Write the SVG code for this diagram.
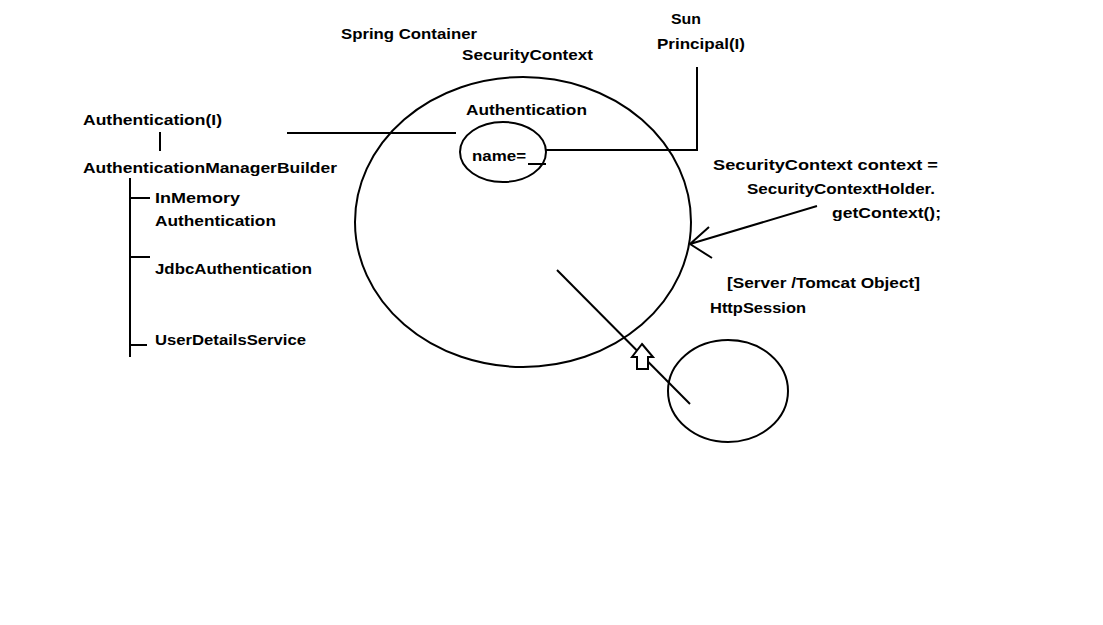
<svg xmlns="http://www.w3.org/2000/svg" width="1103" height="625" viewBox="0 0 1103 625">
<style>
text{font-family:"Liberation Sans",Arial,sans-serif;font-weight:bold;font-size:15.5px;fill:#000}
.s{fill:none;stroke:#000;stroke-width:2}
</style>
<rect width="1103" height="625" fill="#fff"/>
<g id="labels">
<text x="341" y="39" textLength="136" lengthAdjust="spacingAndGlyphs">Spring Container</text>
<text x="462" y="60" textLength="131" lengthAdjust="spacingAndGlyphs">SecurityContext</text>
<text x="671" y="24" textLength="30" lengthAdjust="spacingAndGlyphs">Sun</text>
<text x="657" y="49" textLength="88" lengthAdjust="spacingAndGlyphs">Principal(I)</text>
<text x="713" y="170" textLength="225" lengthAdjust="spacingAndGlyphs">SecurityContext context =</text>
<text x="747" y="194" textLength="188" lengthAdjust="spacingAndGlyphs">SecurityContextHolder.</text>
<text x="832" y="218" textLength="109" lengthAdjust="spacingAndGlyphs">getContext();</text>
<text x="727" y="288" textLength="193" lengthAdjust="spacingAndGlyphs">[Server /Tomcat Object]</text>
<text x="710" y="313" textLength="96" lengthAdjust="spacingAndGlyphs">HttpSession</text>
</g>
<g id="tree">
<text x="83" y="125" textLength="139" lengthAdjust="spacingAndGlyphs">Authentication(I)</text>
<text x="83" y="173" textLength="254" lengthAdjust="spacingAndGlyphs">AuthenticationManagerBuilder</text>
<text x="155" y="203" textLength="85" lengthAdjust="spacingAndGlyphs">InMemory</text>
<text x="155" y="226" textLength="121" lengthAdjust="spacingAndGlyphs">Authentication</text>
<text x="155" y="274" textLength="157" lengthAdjust="spacingAndGlyphs">JdbcAuthentication</text>
<text x="155" y="345" textLength="151" lengthAdjust="spacingAndGlyphs">UserDetailsService</text>
</g>
<g id="spring-container">
<ellipse class="s" cx="523" cy="222" rx="168" ry="145"/>
<text x="466" y="115" textLength="121" lengthAdjust="spacingAndGlyphs">Authentication</text>
</g>
<g id="authentication">
<ellipse class="s" cx="503" cy="152" rx="43" ry="30"/>
<text x="472" y="161" textLength="54" lengthAdjust="spacingAndGlyphs">name=</text>
<path class="s" d="M528 164 H546"/>
</g>
<g id="http-session">
<ellipse class="s" cx="728" cy="391" rx="60" ry="51"/>
</g>
<g id="connectors">
<path class="s" d="M160 132 V151"/>
<path class="s" d="M130 178 V357 M130 198 H150 M130 257 H150 M130 345 H147"/>
<path class="s" d="M287 133 H456"/>
<path class="s" d="M546 150 H697 V67"/>
<path class="s" d="M817 206 L690 244 M690 244 L709 227 M690 244 L712 258"/>
<path class="s" d="M557 270 L690 404"/>
<path fill="#fff" stroke="#000" stroke-width="2" d="M642 344 L653 357 L648 357 L648 369 L637 369 L637 357 L632 357 Z"/>
</g>
</svg>
